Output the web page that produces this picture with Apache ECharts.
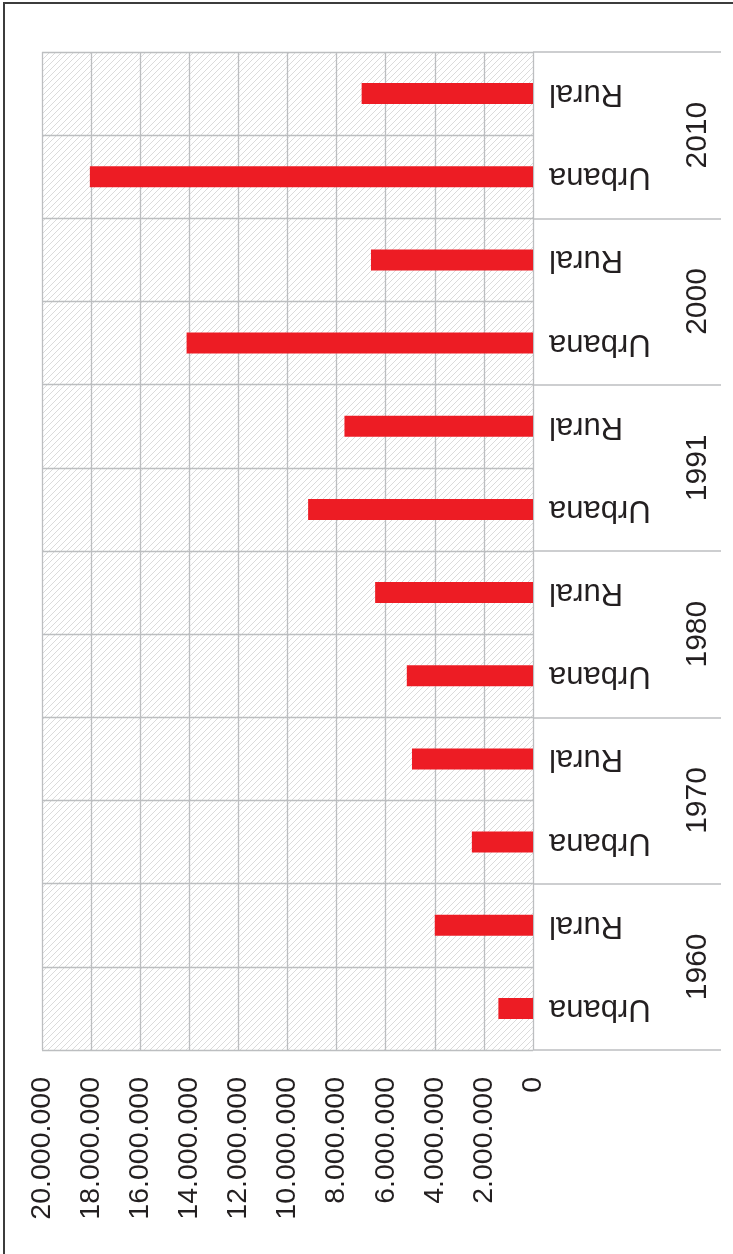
<!DOCTYPE html>
<html>
<head>
<meta charset="utf-8">
<script src="https://cdn.jsdelivr.net/npm/echarts@6/dist/echarts.min.js"></script>
<style>
  html, body { margin: 0; padding: 0; background: #ffffff; }
  #wrap { position: relative; width: 733px; height: 1254px; }
  #chart { position: absolute; left: 0; top: 0; width: 733px; height: 1254px; }
  #frame { position: absolute; left: 3px; top: 2px; right: -10px; bottom: -10px;
           border-left: 2px solid #3c3c3c; border-top: 2px solid #3c3c3c; pointer-events: none; }
</style>
</head>
<body>
<div id="wrap">
  <div id="chart"></div>
  <div id="frame"></div>
</div>
<script>
// ---- data ----
var years = ['1960', '1970', '1980', '1991', '2000', '2010'];
var groups = ['Urbana', 'Rural'];
var urbana = [1410000, 2490000, 5140000, 9160000, 14110000, 18050000];
var rural  = [4000000, 4930000, 6430000, 7680000, 6600000, 6980000];
var valueMin = 0, valueMax = 20000000, valueStep = 2000000;

// build categories (bottom to top) and the interleaved values
var categories = [];
var values = [];
for (var i = 0; i < years.length; i++) {
  categories.push(years[i] + '|' + groups[0]);
  values.push(urbana[i]);
  categories.push(years[i] + '|' + groups[1]);
  values.push(rural[i]);
}

function fmt(v) {
  return String(v).replace(/\B(?=(\d{3})+(?!\d))/g, '.');
}

// hatch pattern for the plot background
function makeHatch() {
  var s = 6;
  var c = document.createElement('canvas');
  c.width = s; c.height = s;
  var ctx = c.getContext('2d');
  ctx.strokeStyle = '#d2d2d2';
  ctx.lineWidth = 0.8;
  ctx.beginPath();
  ctx.moveTo(-1, s + 1); ctx.lineTo(s + 1, -1);
  ctx.moveTo(-1, 1); ctx.lineTo(1, -1);
  ctx.moveTo(s - 1, s + 1); ctx.lineTo(s + 1, s - 1);
  ctx.stroke();
  return c;
}

var textColor = '#231f20';
var gridColor = '#bcbec0';
var font = '"Liberation Sans", Arial, sans-serif';

var chart = echarts.init(document.getElementById('chart'), null, { renderer: 'canvas' });
chart.setOption({
  animation: false,
  backgroundColor: '#ffffff',
  grid: {
    left: 42, right: 200, top: 52, bottom: 204,
    show: true,
    borderWidth: 0,
    backgroundColor: { image: makeHatch(), repeat: 'repeat' }
  },
  xAxis: {
    type: 'value',
    min: valueMin, max: valueMax, interval: valueStep,
    inverse: true,
    position: 'bottom',
    axisLine: { show: false },
    axisTick: { show: false },
    splitLine: { show: true, lineStyle: { color: gridColor, width: 1.3 } },
    axisLabel: {
      rotate: 90,
      margin: 27,
      color: textColor,
      fontFamily: font,
      fontSize: 28.5,
      formatter: function (v) { return fmt(v); }
    }
  },
  yAxis: [
    {
      type: 'category',
      data: categories,
      position: 'right',
      axisLine: { show: false },
      axisTick: { show: false },
      splitLine: { show: true, interval: 0, lineStyle: { color: gridColor, width: 1.3 } },
      axisLabel: {
        interval: 0,
        rotate: 180,
        margin: 16,
        color: textColor,
        fontFamily: font,
        fontSize: 31,
        formatter: function (v) { return v.split('|')[1]; }
      }
    },
    {
      type: 'category',
      data: years,
      position: 'right',
      axisLine: { show: false },
      axisTick: { show: true, interval: 0, length: 188, lineStyle: { color: gridColor, width: 1.6 } },
      splitLine: { show: false },
      axisLabel: {
        interval: 0,
        rotate: 90,
        margin: 150,
        color: textColor,
        fontFamily: font,
        fontSize: 30
      }
    }
  ],
  series: [
    {
      type: 'bar',
      yAxisIndex: 0,
      data: values,
      barWidth: 21,
      itemStyle: { color: '#ed1c24' },
      silent: true
    }
  ]
});
</script>
</body>
</html>
